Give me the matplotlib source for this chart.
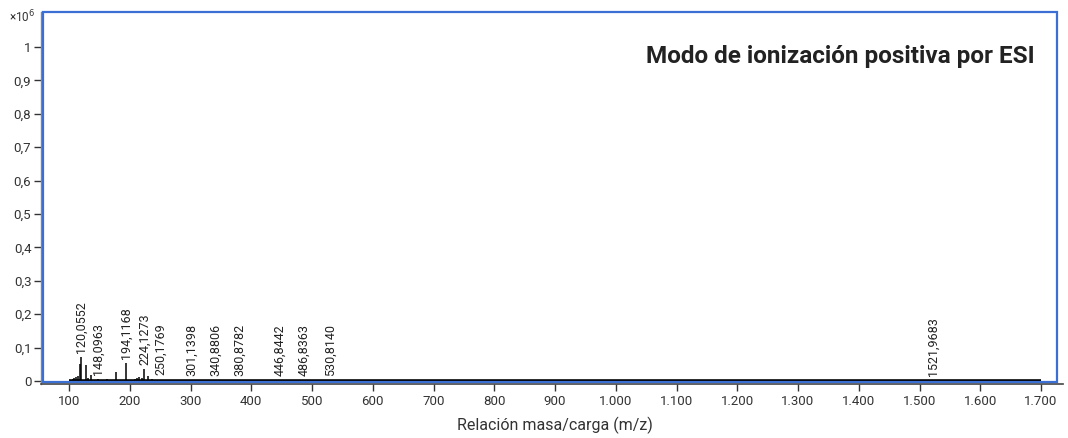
import matplotlib
matplotlib.use("Agg")
import matplotlib.pyplot as plt
from matplotlib.patches import Rectangle
from matplotlib.ticker import FuncFormatter

plt.rcParams["font.family"] = ["Roboto", "DejaVu Sans"]

# spectrum peaks: m/z and intensity (x10^6)
mz = [103.0, 106.0, 109.0, 112.0, 114.0, 118.09, 120.0552, 128.0, 132.0, 136.0,
      142.0, 148.0963, 155.0, 162.0, 170.0, 178.0, 186.0, 194.1168, 208.0, 212.0,
      215.0, 220.0, 224.1273, 230.0, 236.0, 250.1769, 260.0, 268.0, 278.0,
      301.1398, 340.8806, 362.0, 380.8782, 446.8442, 486.8363, 530.8140, 1521.9683]
intensity = [0.004, 0.006, 0.008, 0.012, 0.015, 0.052, 0.072, 0.048, 0.008, 0.018,
             0.004, 0.006, 0.004, 0.005, 0.004, 0.027, 0.004, 0.053, 0.005, 0.008,
             0.011, 0.008, 0.036, 0.015, 0.005, 0.004, 0.003, 0.004, 0.003,
             0.003, 0.002, 0.004, 0.002, 0.003, 0.002, 0.002, 0.002]

labelled = [120.0552, 148.0963, 194.1168, 224.1273, 250.1769, 301.1398, 340.8806,
            380.8782, 446.8442, 486.8363, 530.8140, 1521.9683]

baseline_range = [100, 1700]
xticks = list(range(100, 1701, 100))
yticks = [0, 0.1, 0.2, 0.3, 0.4, 0.5, 0.6, 0.7, 0.8, 0.9, 1.0]

W, H = 1068, 438
fig = plt.figure(figsize=(W / 100, H / 100), dpi=100)
ax = fig.add_axes([41 / W, 1 - 384 / H, (1063 - 41) / W, (384 - 12) / H])

ax.vlines(mz, 0, intensity, color="black", lw=1.1)
ax.plot(baseline_range, [0, 0], color="black", lw=2.6, solid_capstyle="butt")

for m in labelled:
    h = intensity[mz.index(m)]
    ax.annotate(f"{m:.4f}".replace(".", ","), (m, h), xytext=(0, 3),
                textcoords="offset points", rotation=90, ha="center", va="bottom",
                fontsize=9, color="#222222")

ax.set_xlim(53.9, 1736.2)
ax.set_ylim(-0.009, 1.105)

ax.set_xticks(xticks)
ax.xaxis.set_major_formatter(FuncFormatter(lambda v, p: f"{int(v):,}".replace(",", ".")))
ax.set_yticks(yticks)


def yfmt(v, p):
    if abs(v) < 1e-9:
        return "0"
    if abs(v - 1) < 1e-9:
        return "1"
    return f"{v:.1f}".replace(".", ",")


ax.yaxis.set_major_formatter(FuncFormatter(yfmt))
ax.tick_params(axis="both", labelsize=9.5, colors="#333333", length=5, width=1)
ax.tick_params(axis="x", pad=3)
ax.tick_params(axis="y", pad=2)

for s in ["top", "right"]:
    ax.spines[s].set_visible(False)
ax.spines["left"].set_color("#888888")
ax.spines["bottom"].set_color("#444444")
ax.spines["left"].set_linewidth(1.0)
ax.spines["bottom"].set_linewidth(1.2)

# blue frame
fig.patches.append(Rectangle((43 / W, 1 - 382 / H), (1057 - 43) / W, (382 - 12) / H,
                             transform=fig.transFigure, fill=False,
                             edgecolor="#3b6fd4", lw=1.6, zorder=5))

fig.text(1035 / W, 1 - 57 / H, "Modo de ionización positiva por ESI",
         ha="right", va="center", fontsize=17.5, fontweight="bold", color="#222222")

fig.text(9 / W, 1 - 17 / H, "×10$^6$", ha="left", va="center", fontsize=8.5, color="#333333")
fig.text(555 / W, 1 - 425 / H, "Relación masa/carga (m/z)", ha="center", va="center",
         fontsize=11.5, color="#333333")

fig.savefig("out.png", dpi=100)
